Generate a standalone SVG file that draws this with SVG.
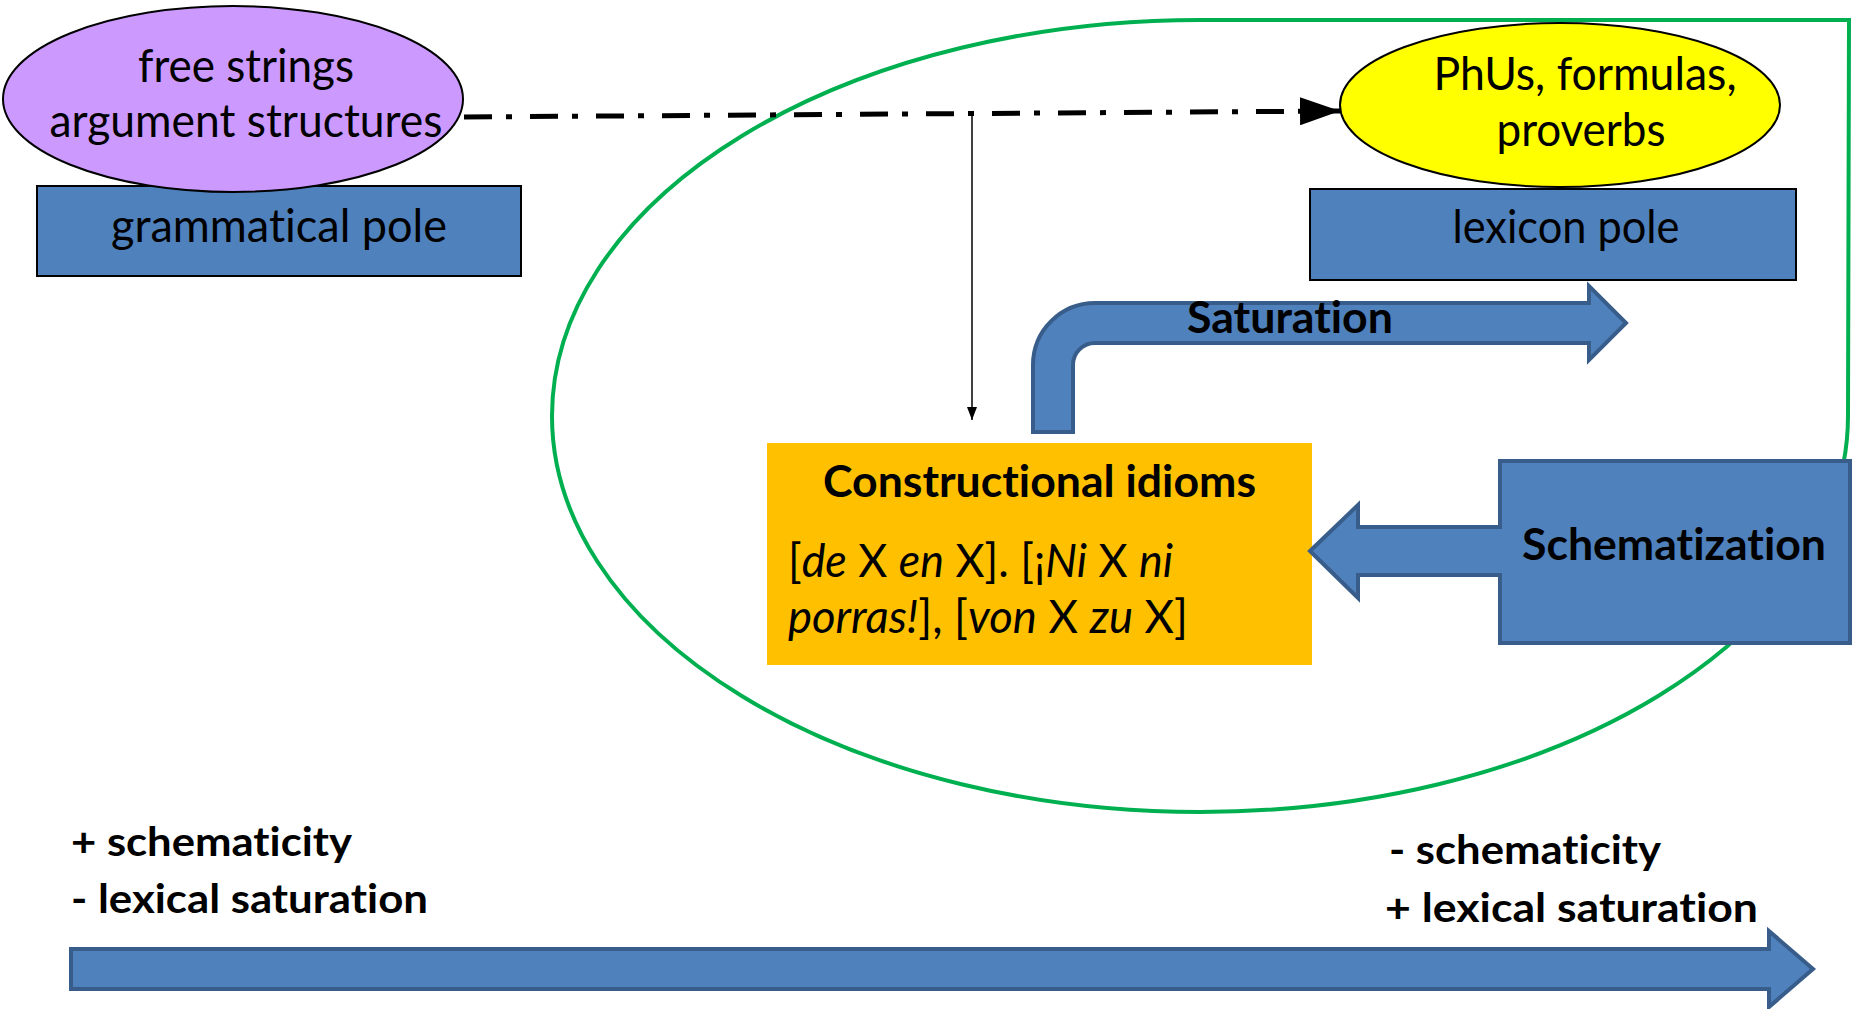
<svg xmlns="http://www.w3.org/2000/svg" width="1854" height="1009" viewBox="0 0 1854 1009">
<style>
  text { font-family: Lato, "Open Sans", "Liberation Sans", sans-serif; fill: #000; font-variant-ligatures: none; font-feature-settings: "liga" 0, "dlig" 0; }
  .reg { font-size: 46px; }
  .bold { font-size: 44px; font-weight: bold; }
  .lbl { font-size: 40px; font-weight: bold; }
  .pole { fill: #4F81BD; stroke: #000; stroke-width: 2; }
  .blue { fill: #4F81BD; stroke: #385D8A; stroke-width: 4; stroke-linejoin: miter; }
</style>
<defs>
  <marker id="bigHead" viewBox="0 0 40 28" refX="40" refY="14" markerWidth="40" markerHeight="28" markerUnits="userSpaceOnUse" orient="auto">
    <path d="M0,0 L40,14 L0,28 Z" fill="#000"/>
  </marker>
  <marker id="smallHead" viewBox="0 0 13 10" refX="13" refY="5" markerWidth="13" markerHeight="10" markerUnits="userSpaceOnUse" orient="auto">
    <path d="M0,0 L13,5 L0,10 Z" fill="#000"/>
  </marker>
</defs>

<g id="scope">
  <path d="M1200,20 L1849,20 L1848,416 A648,396 0 0 1 1200,812 A648,396 0 0 1 552,416 A648,396 0 0 1 1200,20 Z" fill="none" stroke="#00B050" stroke-width="4"/>
</g>

<g id="grammatical-pole">
  <rect class="pole" x="37" y="186" width="484" height="90"/>
  <text class="reg" x="279" y="242" text-anchor="middle" textLength="336" lengthAdjust="spacingAndGlyphs">grammatical pole</text>
</g>

<g id="free-strings">
  <ellipse cx="233" cy="99" rx="230" ry="93" fill="#CC99FF" stroke="#000" stroke-width="2"/>
  <text class="reg" x="246" y="82" text-anchor="middle" textLength="216" lengthAdjust="spacingAndGlyphs">free strings</text>
  <text class="reg" x="246" y="137" text-anchor="middle" textLength="393" lengthAdjust="spacingAndGlyphs">argument structures</text>
</g>

<g id="lexicon-pole">
  <rect class="pole" x="1310" y="189" width="486" height="91"/>
  <text class="reg" x="1566" y="243" text-anchor="middle" textLength="227" lengthAdjust="spacingAndGlyphs">lexicon pole</text>
</g>

<g id="phus">
  <ellipse cx="1560" cy="105" rx="220" ry="82" fill="#FFFF00" stroke="#000" stroke-width="2"/>
  <text class="reg" x="1585" y="90" text-anchor="middle" textLength="303" lengthAdjust="spacingAndGlyphs">PhUs, formulas,</text>
  <text class="reg" x="1581" y="146" text-anchor="middle" textLength="169" lengthAdjust="spacingAndGlyphs">proverbs</text>
</g>

<g id="connectors">
  <line x1="464" y1="117" x2="1340" y2="111" stroke="#000" stroke-width="5" stroke-dasharray="28 14 6 18" marker-end="url(#bigHead)"/>
  <line x1="972" y1="115" x2="972" y2="420" stroke="#000" stroke-width="1.5" marker-end="url(#smallHead)"/>
</g>

<g id="saturation">
  <path class="blue" d="M1033,432 L1033,365 A62,62 0 0 1 1095,303 L1589,303 L1589,286 L1626,323 L1589,360 L1589,343 L1095,343 A22,22 0 0 0 1073,365 L1073,432 Z"/>
  <text class="bold" x="1187" y="333" textLength="206" lengthAdjust="spacingAndGlyphs">Saturation</text>
</g>

<g id="constructional-idioms">
  <rect x="767" y="443" width="545" height="222" fill="#FFC000"/>
  <text class="bold" x="823" y="497" textLength="433" lengthAdjust="spacingAndGlyphs">Constructional idioms</text>
  <text class="reg" x="788" y="577" textLength="385" lengthAdjust="spacingAndGlyphs">[<tspan font-style="italic">de</tspan> X <tspan font-style="italic">en</tspan> X]. [¡<tspan font-style="italic">Ni</tspan> X <tspan font-style="italic">ni</tspan></text>
  <text class="reg" x="788" y="633" textLength="400" lengthAdjust="spacingAndGlyphs"><tspan font-style="italic">porras!</tspan>], [<tspan font-style="italic">von</tspan> X <tspan font-style="italic">zu</tspan> X]</text>
</g>

<g id="schematization">
  <path class="blue" d="M1500,461 L1850,461 L1850,643 L1500,643 L1500,575 L1358,575 L1358,598 L1310,551 L1358,505 L1358,527 L1500,527 Z"/>
  <text class="bold" x="1522" y="560" textLength="304" lengthAdjust="spacingAndGlyphs">Schematization</text>
</g>

<g id="scale">
  <path class="blue" d="M71,949 L1769,949 L1769,931 L1813,969 L1769,1007 L1769,989 L71,989 Z"/>
  <text class="lbl" x="71" y="856" textLength="281" lengthAdjust="spacingAndGlyphs">+ schematicity</text>
  <text class="lbl" x="71" y="913" textLength="357" lengthAdjust="spacingAndGlyphs">- lexical saturation</text>
  <text class="lbl" x="1389" y="864" textLength="272" lengthAdjust="spacingAndGlyphs">- schematicity</text>
  <text class="lbl" x="1385" y="922" textLength="373" lengthAdjust="spacingAndGlyphs">+ lexical saturation</text>
</g>
</svg>
